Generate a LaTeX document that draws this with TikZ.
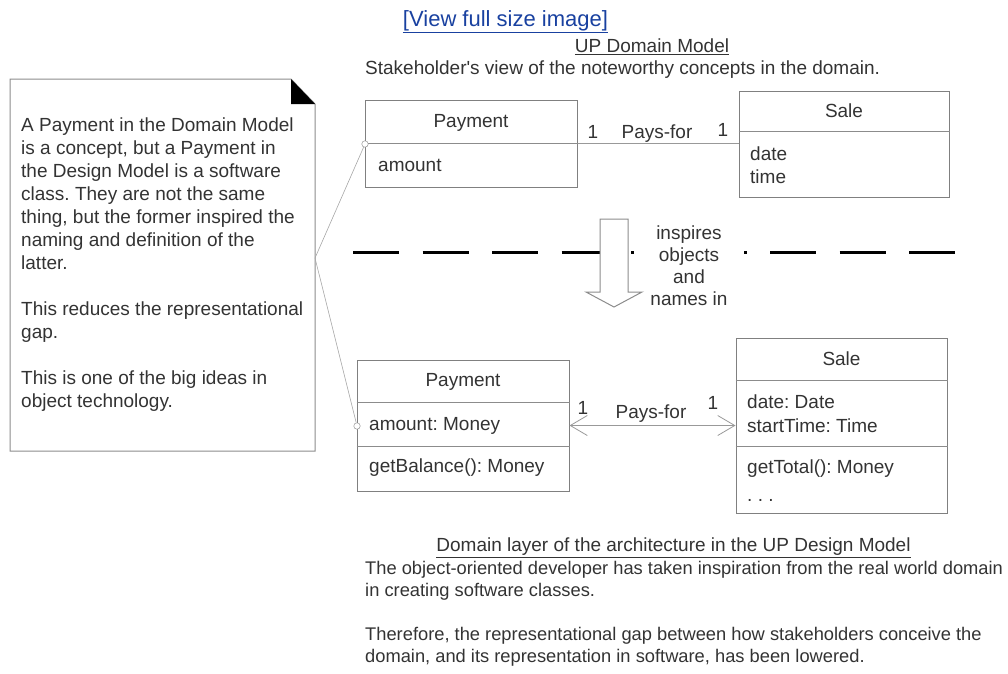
\documentclass[tikz,border=0pt]{standalone}
\usepackage{fontspec}
\setmainfont{Liberation Sans}
\usetikzlibrary{arrows.meta}
\frenchspacing
\definecolor{linkblue}{RGB}{25,65,160}

\begin{document}
\begin{tikzpicture}[x=1pt, y=-1pt,
    txt/.style={font=\fontsize{19}{23}\selectfont, text=black!80, inner sep=0pt},
    classbox/.style={draw=black!50, line width=1pt, inner sep=0pt},
    sepline/.style={draw=black!45, line width=1pt},
    assoc/.style={draw=black!40, line width=0.8pt},
    noteline/.style={draw=black!35, line width=0.6pt},
    knob/.style={circle, draw=black!50, fill=white, minimum size=6.5pt, inner sep=0pt}]

    \useasboundingbox (0,0) rectangle (1008,673);

    % Link and heading of the domain model
    \node[txt, text=linkblue, font=\fontsize{22}{26}\selectfont] (link) at (505.5,22) {\underline{[View full size image]}};
    \node[txt] (domTitle) at (652,47) {\underline{UP Domain Model}};
    \node[txt, anchor=west] (domView) at (365,70) {Stakeholder\textquotesingle s view of the noteworthy concepts in the domain.};

    % Note with folded corner
    \draw[draw=black!45, line width=1pt] (10,79) -- (291,79) -- (315,104) -- (315,451) -- (10,451) -- cycle;
    \fill (291,79) -- (291,104) -- (315,104) -- cycle;
    \node[txt, anchor=north west, align=left] (note) at (21,118)
        {A Payment in the Domain Model\\is a concept, but a Payment in\\the Design Model is a software\\class. They are not the same\\thing, but the former inspired the\\naming and definition of the\\latter.\\[23pt]This reduces the representational\\gap.\\[23pt]This is one of the big ideas in\\object technology.};
    \coordinate (noteTip) at (315,258);

    % Domain model classes
    \node[classbox, minimum width=212pt, minimum height=87pt] (payDom) at (471,143.5) {};
    \node[classbox, minimum width=210pt, minimum height=106pt] (saleDom) at (844,144) {};
    \node[txt] (payDomName) at (471,123) {Payment};
    \node[txt, anchor=west] (payDomAttr) at (378,165) {amount};
    \node[txt] (saleDomName) at (844,111) {Sale};
    \node[txt, anchor=west, align=left] (saleDomAttr) at (750,165.5) {date\\time};

    % Design model classes
    \node[classbox, minimum width=212pt, minimum height=131pt] (payDes) at (463,425.5) {};
    \node[classbox, minimum width=211pt, minimum height=175pt] (saleDes) at (841.5,425.5) {};
    \node[txt] (payDesName) at (463,382) {Payment};
    \node[txt, anchor=west] (payDesAttr) at (369,426) {amount: Money};
    \node[txt, anchor=west] (payDesOp) at (369,468) {getBalance(): Money};
    \node[txt] (saleDesName) at (841.5,359) {Sale};
    \node[txt, anchor=west, align=left, font=\fontsize{19}{24}\selectfont] (saleDesAttr) at (747,414) {date: Date\\startTime: Time};
    \node[txt, anchor=west, align=left, font=\fontsize{19}{28}\selectfont] (saleDesOp) at (747,481) {getTotal(): Money\\. . .};

    % Compartment lines
    \foreach \n/\d in {payDom/44, saleDom/41, payDes/43, payDes/87, saleDes/43, saleDes/109}
        \draw[sepline] ([yshift=-\d pt]\n.north west) -- ([yshift=-\d pt]\n.north east);

    % Associations
    \draw[assoc] (payDom.east) -- (payDom.east -| saleDom.west);
    \node[txt] (mulDomA) at (593,132) {1};
    \node[txt] (assocDom) at (657,134) {Pays-for};
    \node[txt] (mulDomB) at (723,130) {1};

    \draw[assoc, {Straight Barb[length=17pt,width=20pt]}-{Straight Barb[length=17pt,width=20pt]}] (payDes.east) -- (saleDes.west);
    \node[txt] (mulDesA) at (583,408) {1};
    \node[txt] (assocDes) at (651,414) {Pays-for};
    \node[txt] (mulDesB) at (713,403) {1};

    % Note connectors
    \node[knob] (knobDom) at (365,144) {};
    \node[knob] (knobDes) at (357,426) {};
    \draw[noteline] (noteTip) -- (knobDom);
    \draw[noteline] (noteTip) -- (knobDes);

    % Boundary between the models
    \draw[line width=3pt, dash pattern=on 46pt off 23.5pt] (353,252) -- (956,252);
    \node[txt, fill=white, align=center, minimum width=110pt, font=\fontsize{19}{22}\selectfont] (inspires) at (689,266)
        {inspires\\objects\\and\\names in};
    \draw[draw=black!45, fill=white, line width=1pt] (600,219) -- (628,219) -- (628,292) -- (642,292) -- (614,307) -- (586,292) -- (600,292) -- cycle;

    % Heading of the design model
    \node[txt] (desTitle) at (673.5,548) {\underline{Domain layer of the architecture in the UP Design Model}};
    \node[txt, anchor=north west, align=left, font=\fontsize{18.3}{22}\selectfont] (desView) at (365,561.5)
        {The object-oriented developer has taken inspiration from the real world domain\\in creating software classes.\\[22pt]Therefore, the representational gap between how stakeholders conceive the\\domain, and its representation in software, has been lowered.};

\end{tikzpicture}
\end{document}
